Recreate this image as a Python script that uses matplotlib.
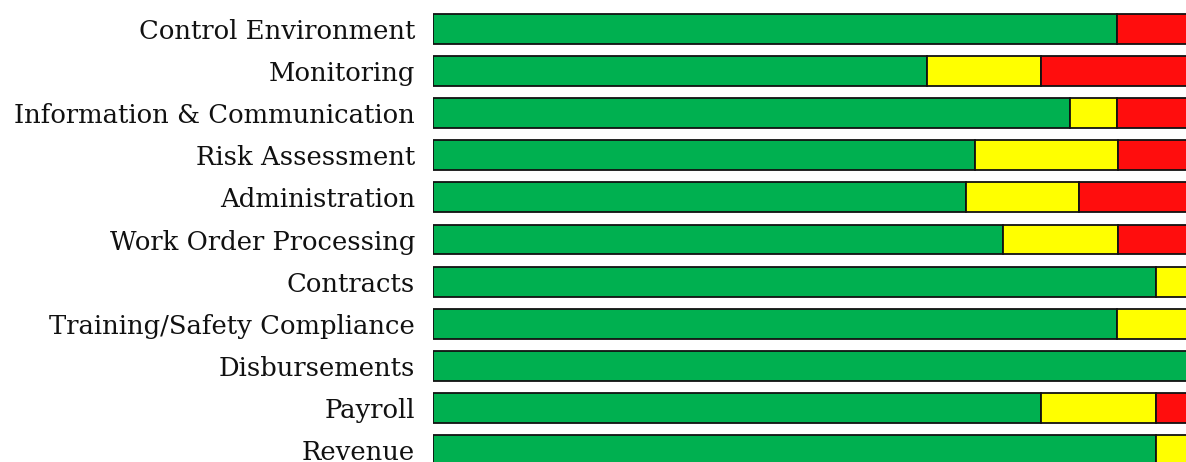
import matplotlib
matplotlib.use("Agg")
import matplotlib.pyplot as plt
import numpy as np

categories = ["Control Environment", "Monitoring", "Information & Communication",
              "Risk Assessment", "Administration", "Work Order Processing",
              "Contracts", "Training/Safety Compliance", "Disbursements",
              "Payroll", "Revenue"]
green = [88.0, 63.6, 82.0, 69.8, 68.6, 73.4, 93.1, 88.0, 100.0, 78.3, 93.1]
yellow = [0.0, 14.7, 6.0, 18.3, 14.5, 14.7, 6.9, 12.0, 0.0, 14.8, 6.9]
red = [12.0, 21.7, 12.0, 11.9, 16.9, 11.9, 0.0, 0.0, 0.0, 6.9, 0.0]

colors = ["#00B050", "#FFFF00", "#FF0D0D"]

fig = plt.figure(figsize=(11.86, 4.62), dpi=100)
ax = fig.add_axes([433 / 1186, 0, (1210 - 433) / 1186, 1])

y = np.arange(len(categories))
left = np.zeros(len(categories))
for vals, c in zip([green, yellow, red], colors):
    vals = np.array(vals)
    mask = vals > 0
    ax.barh(y[mask], vals[mask], left=left[mask], height=0.71, color=c,
            edgecolor="#111111", linewidth=1.3)
    left += vals

ax.set_xlim(0, 100)
ax.set_ylim(10.285, -0.689)
ax.set_yticks(y)
ax.set_yticklabels(categories, fontsize=18.6, family="DejaVu Serif", color="#111111")
ax.tick_params(axis="y", length=0, pad=13)
ax.set_xticks([])
for s in ax.spines.values():
    s.set_visible(False)

fig.savefig("out.png", dpi=100)
